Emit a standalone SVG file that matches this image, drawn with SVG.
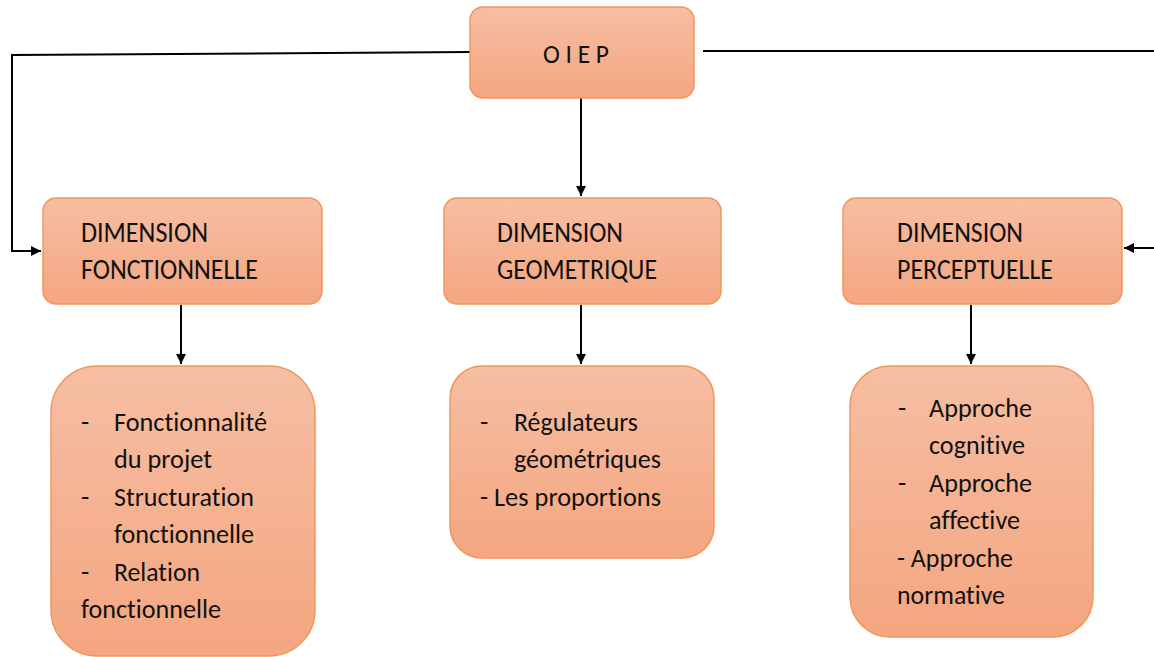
<svg xmlns="http://www.w3.org/2000/svg" width="1154" height="657" viewBox="0 0 1154 657">
<style>
.box{fill:url(#g);stroke:#F0965C;stroke-width:1.5}
.t{font-family:Carlito,Calibri,"Liberation Sans",sans-serif;fill:#111;font-size:27px;font-variant-ligatures:none}
.h{font-size:28px}
.c{fill:none;stroke:#000;stroke-width:2}
</style>
<defs>
<linearGradient id="g" x1="0" y1="0" x2="0" y2="1">
<stop offset="0" stop-color="#F6BEA3"/>
<stop offset="1" stop-color="#F4A680"/>
</linearGradient>
<marker id="a" viewBox="0 0 10 10" refX="10" refY="5" markerWidth="5" markerHeight="5" orient="auto">
<path d="M0,0 L10,5 L0,10 Z" fill="#000"/>
</marker>
</defs>
<g id="connectors">
<polyline class="c" points="470,52 12,55 12,251 41,251" marker-end="url(#a)"/>
<line class="c" x1="703" y1="51" x2="1154" y2="51"/>
<line class="c" x1="1154" y1="248" x2="1124" y2="248" marker-end="url(#a)"/>
<line class="c" x1="581" y1="98" x2="581" y2="196" marker-end="url(#a)"/>
<line class="c" x1="181" y1="305" x2="181" y2="364" marker-end="url(#a)"/>
<line class="c" x1="581" y1="305" x2="581" y2="364" marker-end="url(#a)"/>
<line class="c" x1="971" y1="305" x2="971" y2="364" marker-end="url(#a)"/>
</g>
<g id="oiep">
<rect class="box" x="470" y="7" width="224" height="91" rx="13"/>
<text class="t" x="543" y="63" font-size="26" textLength="66" lengthAdjust="spacingAndGlyphs">O I E P</text>
</g>
<g id="dim-fonctionnelle">
<rect class="box" x="43" y="198" width="279" height="106" rx="13"/>
<text class="t h" x="81" y="242" textLength="127" lengthAdjust="spacingAndGlyphs">DIMENSION</text>
<text class="t h" x="81" y="279" textLength="177" lengthAdjust="spacingAndGlyphs">FONCTIONNELLE</text>
</g>
<g id="dim-geometrique">
<rect class="box" x="444" y="198" width="277" height="106" rx="13"/>
<text class="t h" x="497" y="242" textLength="126" lengthAdjust="spacingAndGlyphs">DIMENSION</text>
<text class="t h" x="497" y="279" textLength="160" lengthAdjust="spacingAndGlyphs">GEOMETRIQUE</text>
</g>
<g id="dim-perceptuelle">
<rect class="box" x="843" y="198" width="279" height="106" rx="13"/>
<text class="t h" x="897" y="242" textLength="126" lengthAdjust="spacingAndGlyphs">DIMENSION</text>
<text class="t h" x="897" y="279" textLength="156" lengthAdjust="spacingAndGlyphs">PERCEPTUELLE</text>
</g>
<g id="fonctionnelle-items">
<rect class="box" x="51" y="366" width="264" height="290" rx="46"/>
<text class="t" x="81" y="431">-</text>
<text class="t" x="114" y="431" textLength="153" lengthAdjust="spacingAndGlyphs">Fonctionnalité</text>
<text class="t" x="114" y="468" textLength="98" lengthAdjust="spacingAndGlyphs">du projet</text>
<text class="t" x="81" y="506">-</text>
<text class="t" x="114" y="506" textLength="140" lengthAdjust="spacingAndGlyphs">Structuration</text>
<text class="t" x="114" y="543" textLength="140" lengthAdjust="spacingAndGlyphs">fonctionnelle</text>
<text class="t" x="81" y="581">-</text>
<text class="t" x="114" y="581" textLength="86" lengthAdjust="spacingAndGlyphs">Relation</text>
<text class="t" x="81" y="618" textLength="140" lengthAdjust="spacingAndGlyphs">fonctionnelle</text>
</g>
<g id="geometrique-items">
<rect class="box" x="450" y="366" width="264" height="192" rx="32"/>
<text class="t" x="480" y="431">-</text>
<text class="t" x="514" y="431" textLength="124" lengthAdjust="spacingAndGlyphs">Régulateurs</text>
<text class="t" x="514" y="468" textLength="147" lengthAdjust="spacingAndGlyphs">géométriques</text>
<text class="t" x="480" y="506" textLength="181" lengthAdjust="spacingAndGlyphs">- Les proportions</text>
</g>
<g id="perceptuelle-items">
<rect class="box" x="850" y="366" width="243" height="271" rx="40"/>
<text class="t" x="898" y="417">-</text>
<text class="t" x="929" y="417" textLength="103" lengthAdjust="spacingAndGlyphs">Approche</text>
<text class="t" x="929" y="454" textLength="96" lengthAdjust="spacingAndGlyphs">cognitive</text>
<text class="t" x="898" y="492">-</text>
<text class="t" x="929" y="492" textLength="103" lengthAdjust="spacingAndGlyphs">Approche</text>
<text class="t" x="929" y="529" textLength="91" lengthAdjust="spacingAndGlyphs">affective</text>
<text class="t" x="897" y="567" textLength="116" lengthAdjust="spacingAndGlyphs">- Approche</text>
<text class="t" x="897" y="604" textLength="108" lengthAdjust="spacingAndGlyphs">normative</text>
</g>
</svg>
